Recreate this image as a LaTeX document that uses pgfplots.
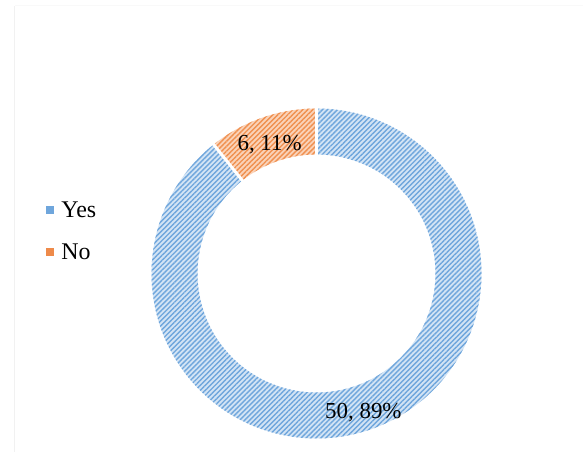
\documentclass[border=0pt]{standalone}
\usepackage{pgfplots}
\pgfplotsset{compat=1.18}
\usepackage{pgfplotstable}
\usetikzlibrary{patterns.meta}
\usepackage{fontspec}
\setmainfont{Liberation Serif}
\definecolor{yesbase}{HTML}{D3E4F5}
\definecolor{yesline}{HTML}{6FA6DC}
\definecolor{nobase}{HTML}{FAD3B9}
\definecolor{noline}{HTML}{F0904F}
\definecolor{yesleg}{HTML}{6FA6DC}
\definecolor{noleg}{HTML}{EE8A4A}
\pgfplotstableread{
label value pct
Yes 50 89
No 6 11
}\donutdata
\begin{document}
\begin{tikzpicture}
\pgfplotstablegetelem{0}{value}\of\donutdata \let\vyes\pgfplotsretval
\pgfplotstablegetelem{1}{value}\of\donutdata \let\vno\pgfplotsretval
\pgfplotstablegetelem{0}{pct}\of\donutdata \let\pyes\pgfplotsretval
\pgfplotstablegetelem{1}{pct}\of\donutdata \let\pno\pgfplotsretval
\pgfmathsetmacro{\tot}{\vyes+\vno}
\pgfmathsetmacro{\aA}{90}
\pgfmathsetmacro{\aB}{90-360*(\vyes/\tot)}
\pgfmathsetmacro{\aC}{\aB-360*(\vno/\tot)}
\pgfmathsetmacro{\mYes}{(\aA+\aB)/2}
\pgfmathsetmacro{\mNo}{(\aB+\aC)/2}
\begin{axis}[name=ax,
  scale only axis, width=583bp, height=452bp,
  xmin=0, xmax=583, ymin=0, ymax=452,
  hide axis, clip=false,
  legend style={at={(axis cs:46,219)}, anchor=west, draw=none, fill=none,
    font=\fontsize{24}{28}\selectfont, row sep=21bp, inner sep=0pt, outer sep=0pt,
    nodes={inner sep=0pt, text height=16bp, text depth=5bp, font=\fontsize{24}{28}\selectfont},
    /tikz/every odd column/.append style={column sep=8bp}},
  legend cell align=left,
  legend image code/.code={\fill[#1] (0bp,-1bp) rectangle (7bp,6bp);},
]
\def\cx{316.5}\def\cy{178.5}\def\ro{165}\def\ri{119}
% Yes segment
\fill[yesbase] (axis cs:\cx,\cy) ++(\aA:\ro bp) arc[start angle=\aA, end angle=\aB, radius=\ro bp]
   -- ++(\aB:-46bp) arc[start angle=\aB, end angle=\aA, radius=\ri bp] -- cycle;
\fill[pattern={Lines[angle=45,distance=3.5bp,line width=1.4bp]}, pattern color=yesline]
   (axis cs:\cx,\cy) ++(\aA:\ro bp) arc[start angle=\aA, end angle=\aB, radius=\ro bp]
   -- ++(\aB:-46bp) arc[start angle=\aB, end angle=\aA, radius=\ri bp] -- cycle;
% No segment
\fill[nobase] (axis cs:\cx,\cy) ++(\aB:\ro bp) arc[start angle=\aB, end angle=\aC, radius=\ro bp]
   -- ++(\aC:-46bp) arc[start angle=\aC, end angle=\aB, radius=\ri bp] -- cycle;
\fill[pattern={Lines[angle=45,distance=3.5bp,line width=1.4bp]}, pattern color=noline]
   (axis cs:\cx,\cy) ++(\aB:\ro bp) arc[start angle=\aB, end angle=\aC, radius=\ro bp]
   -- ++(\aC:-46bp) arc[start angle=\aC, end angle=\aB, radius=\ri bp] -- cycle;
% separators
\draw[white, line width=3bp] (axis cs:\cx,\cy) ++(\aA:\ri bp-2bp) -- ++(\aA:50bp);
\draw[white, line width=3bp] (axis cs:\cx,\cy) ++(\aB:\ri bp-2bp) -- ++(\aB:50bp);
% labels
\node[font=\fontsize{23}{27}\selectfont, inner sep=0pt, yshift=-5bp] at ([shift={(\mNo:142bp)}]axis cs:\cx,\cy) {\vno, \pno\%};
\node[font=\fontsize{23}{27}\selectfont, inner sep=0pt, yshift=-5bp] at ([shift={(\mYes:142bp)}]axis cs:\cx,\cy) {\vyes, \pyes\%};
% chart border (partly visible)
\draw[gray!11, line width=1.5bp] (axis cs:14.5,0) -- (axis cs:14.5,446);
\draw[gray!5, line width=1bp] (axis cs:14.5,446) -- (axis cs:583,446);
\addlegendimage{yesleg}
\addlegendentry{Yes}
\addlegendimage{noleg}
\addlegendentry{No}
\end{axis}
\pgfresetboundingbox
\path[use as bounding box] (ax.south west) rectangle (ax.north east);
\end{tikzpicture}
\end{document}
